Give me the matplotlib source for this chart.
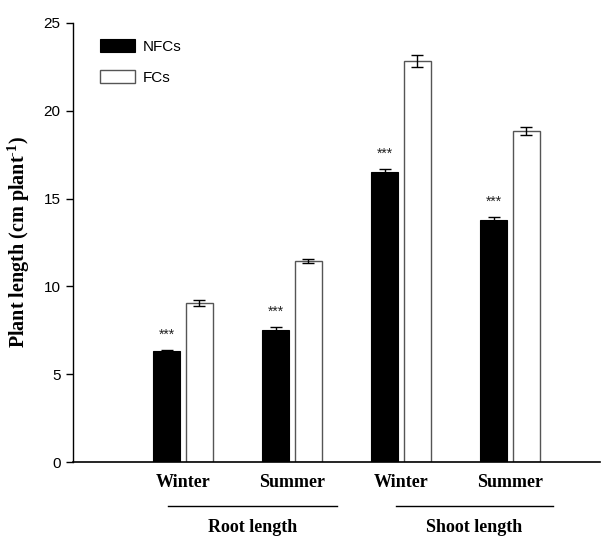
import matplotlib
matplotlib.use("Agg")
import matplotlib.pyplot as plt
import matplotlib.transforms as mtransforms
import numpy as np

seasons = ["Winter", "Summer", "Winter", "Summer"]
groups = ["Root length", "Shoot length"]
nfcs = [6.3, 7.5, 16.5, 13.8]
nfcs_err = [0.07, 0.2, 0.2, 0.15]
fcs = [9.05, 11.45, 22.85, 18.85]
fcs_err = [0.15, 0.1, 0.35, 0.2]
sig = ["***", "***", "***", "***"]
yticks = [0, 5, 10, 15, 20, 25]

plt.rcParams["mathtext.fontset"] = "custom"
plt.rcParams["mathtext.rm"] = "Liberation Serif:bold"
plt.rcParams["mathtext.bf"] = "Liberation Serif:bold"

serif = ["Liberation Serif", "DejaVu Serif"]
sans = ["Liberation Sans", "DejaVu Sans"]

fig = plt.figure(figsize=(6.01, 5.36), dpi=100)
ax = fig.add_axes([73/601, 74/536, (600-73)/601, 439/536])

x = np.arange(len(seasons))
w = 0.243
off = 0.151
ax.bar(x - off, nfcs, w, color="black", edgecolor="black", linewidth=0.8,
       yerr=nfcs_err, error_kw=dict(ecolor="black", elinewidth=1, capsize=4.5, capthick=1),
       label="NFCs", zorder=2)
ax.bar(x + off, fcs, w, color="white", edgecolor="#555555", linewidth=1.0,
       yerr=fcs_err, error_kw=dict(ecolor="black", elinewidth=1, capsize=4.5, capthick=1),
       label="FCs", zorder=2)

for xi, v, e, s in zip(x, nfcs, nfcs_err, sig):
    ax.text(xi - off, v + e + 0.45, s, ha="center", va="bottom", fontsize=10,
            family=sans, color="#222222")

ax.set_xlim(-1.009, 3.826)
ax.set_ylim(0, 25)
ax.set_yticks(yticks)
ax.set_yticklabels([str(t) for t in yticks], family=sans, fontsize=11)
ax.set_xticks([])
ax.tick_params(axis="y", direction="out", length=5, width=1, pad=4)
ax.spines["top"].set_visible(False)
ax.spines["right"].set_visible(False)
ax.spines["left"].set_linewidth(1)
ax.spines["bottom"].set_linewidth(1.2)

ax.set_ylabel("Plant length (cm plant$^{\\text{-}1}$)", family=serif,
              fontweight="bold", fontsize=14.5, labelpad=8)

trans = mtransforms.blended_transform_factory(ax.transData, ax.transAxes)
for xi, s in zip(x, seasons):
    ax.text(xi, -0.046, s, transform=trans, ha="center", va="center",
            family=serif, fontweight="bold", fontsize=13)

spans = [(-0.138, 1.413), (1.954, 3.394)]
for (a, b), g in zip(spans, groups):
    ax.plot([a, b], [-0.1002, -0.1002], transform=trans, color="black",
            linewidth=1, clip_on=False)
    ax.text((a + b) / 2, -0.150, g, transform=trans, ha="center", va="center",
            family=serif, fontweight="bold", fontsize=13)

leg = ax.legend(loc="upper left", bbox_to_anchor=(0.025, 0.995), frameon=False,
                prop={"family": sans, "size": 11}, handlelength=2.3,
                handleheight=0.9, labelspacing=1.1, handletextpad=0.5)

fig.savefig("out.png", dpi=100)
